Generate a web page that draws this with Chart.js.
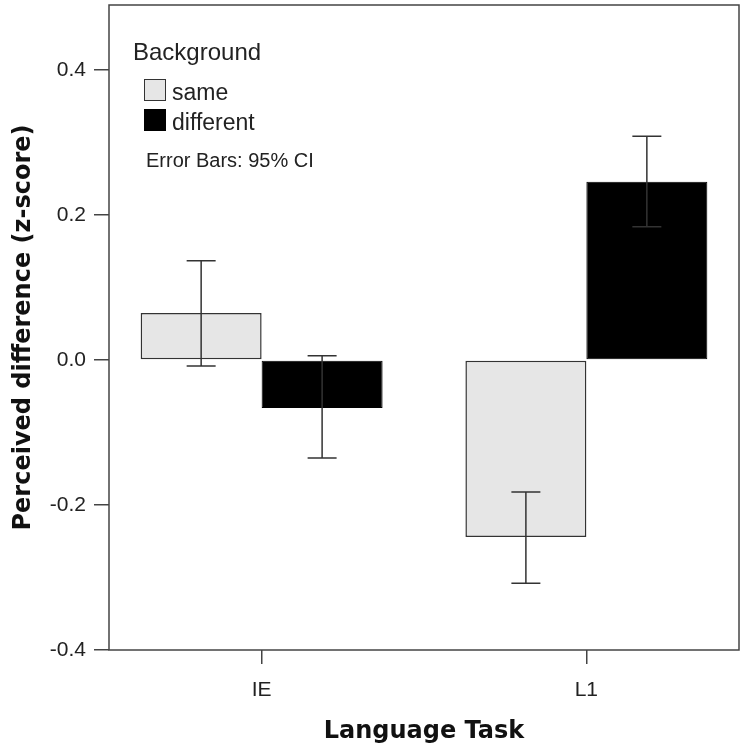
<!DOCTYPE html>
<html lang="en">
<head>
  <meta charset="UTF-8">
  <title>Perceived difference by Language Task</title>
  <script src="https://cdn.jsdelivr.net/npm/chart.js"></script>
  <style>
    html, body { margin: 0; padding: 0; background: #fff; }
    #wrap { width: 744px; height: 750px; }
  </style>
</head>
<body>
  <div id="wrap"><canvas id="chart"></canvas></div>

  <script>
    const categories = ['IE', 'L1'];
    const sameMeans = [0.065, -0.244];
    const diffMeans = [-0.066, 0.246];
    const sameLow = [-0.008, -0.308];
    const sameHigh = [0.137, -0.182];
    const diffLow = [-0.135, 0.184];
    const diffHigh = [0.006, 0.309];
    const yTicks = [-0.4, -0.2, 0.0, 0.2, 0.4];

    const errors = [
      { low: sameLow, high: sameHigh },
      { low: diffLow, high: diffHigh }
    ];

    const errorBars = {
      id: 'errorBars',
      afterDatasetsDraw(chart) {
        const ctx = chart.ctx;
        const y = chart.scales.y;
        ctx.save();
        ctx.strokeStyle = '#333';
        ctx.lineWidth = 1.5;
        chart.data.datasets.forEach((ds, d) => {
          chart.getDatasetMeta(d).data.forEach((bar, i) => {
            const x = bar.x;
            const top = y.getPixelForValue(errors[d].high[i]);
            const bot = y.getPixelForValue(errors[d].low[i]);
            ctx.beginPath();
            ctx.moveTo(x, top); ctx.lineTo(x, bot);
            ctx.moveTo(x - 14.5, top); ctx.lineTo(x + 14.5, top);
            ctx.moveTo(x - 14.5, bot); ctx.lineTo(x + 14.5, bot);
            ctx.stroke();
          });
        });
        ctx.restore();
      }
    };

    const frameAndLegend = {
      id: 'frameAndLegend',
      afterDraw(chart) {
        const ctx = chart.ctx;
        const a = chart.chartArea;
        ctx.save();
        ctx.strokeStyle = '#444';
        ctx.lineWidth = 1.5;
        ctx.strokeRect(a.left, a.top, a.right - a.left, a.bottom - a.top);

        ctx.fillStyle = '#222';
        ctx.textBaseline = 'alphabetic';
        ctx.font = '24px "Liberation Sans", Arial, sans-serif';
        ctx.fillText('Background', 133, 60);

        ctx.font = '23px "Liberation Sans", Arial, sans-serif';
        chart.data.datasets.forEach((ds, d) => {
          const top = 79 + d * 30;
          ctx.fillStyle = ds.backgroundColor;
          ctx.fillRect(144, top, 22, 22);
          ctx.strokeStyle = ds.borderColor;
          ctx.lineWidth = 1;
          ctx.strokeRect(144.5, top + 0.5, 21, 21);
          ctx.fillStyle = '#222';
          ctx.fillText(ds.label, 172, top + 21);
        });

        ctx.font = '20px "Liberation Sans", Arial, sans-serif';
        ctx.fillText('Error Bars: 95% CI', 146, 167);
        ctx.restore();
      }
    };

    new Chart(document.getElementById('chart'), {
      type: 'bar',
      data: {
        datasets: [
          {
            label: 'same',
            data: sameMeans.map((v, i) => ({ x: i, y: v })),
            backgroundColor: '#e6e6e6',
            borderColor: '#333',
            borderWidth: 1.5,
            borderSkipped: false
          },
          {
            label: 'different',
            data: diffMeans.map((v, i) => ({ x: i, y: v })),
            backgroundColor: '#000',
            borderColor: '#000',
            borderWidth: 1,
            borderSkipped: false
          }
        ]
      },
      options: {
        responsive: true,
        maintainAspectRatio: false,
        animation: false,
        layout: { padding: { top: 5, right: 5, left: 0, bottom: 0 } },
        datasets: { bar: { categoryPercentage: 0.745, barPercentage: 1 } },
        plugins: { legend: { display: false }, tooltip: { enabled: false } },
        scales: {
          x: {
            type: 'linear',
            min: -0.47,
            max: 1.47,
            offset: false,
            afterBuildTicks: s => { s.ticks = categories.map((c, i) => ({ value: i })); },
            afterFit: s => { s.height = 100; s.paddingLeft = 0; s.paddingRight = 0; },
            ticks: {
              autoSkip: false,
              padding: 14,
              color: '#222',
              font: { family: '"Liberation Sans", Arial, sans-serif', size: 21 },
              callback: v => categories[v]
            },
            grid: { offset: false, drawOnChartArea: false, tickLength: 14, color: '#444', lineWidth: 1.5 },
            border: { display: false },
            title: {
              display: true,
              text: 'Language Task',
              color: '#111',
              font: { family: '"DejaVu Sans", sans-serif', size: 24, weight: 'bold' },
              padding: { top: 0, bottom: 4 }
            }
          },
          y: {
            min: -0.4,
            max: 0.49,
            afterBuildTicks: s => { s.ticks = yTicks.map(v => ({ value: v })); },
            afterFit: s => { s.width = 109; s.paddingTop = 0; s.paddingBottom = 0; },
            ticks: {
              padding: 8,
              color: '#222',
              font: { family: '"Liberation Sans", Arial, sans-serif', size: 21 },
              callback: v => (Math.abs(v) < 1e-9 ? 0 : v).toFixed(1)
            },
            grid: { drawOnChartArea: false, tickLength: 15, color: '#444', lineWidth: 1.5 },
            border: { display: false },
            title: {
              display: true,
              text: 'Perceived difference (z-score)',
              color: '#111',
              font: { family: '"DejaVu Sans", sans-serif', size: 24, weight: 'bold' },
              padding: { top: 9, bottom: 0 }
            }
          }
        }
      },
      plugins: [errorBars, frameAndLegend]
    });
  </script>
</body>
</html>
